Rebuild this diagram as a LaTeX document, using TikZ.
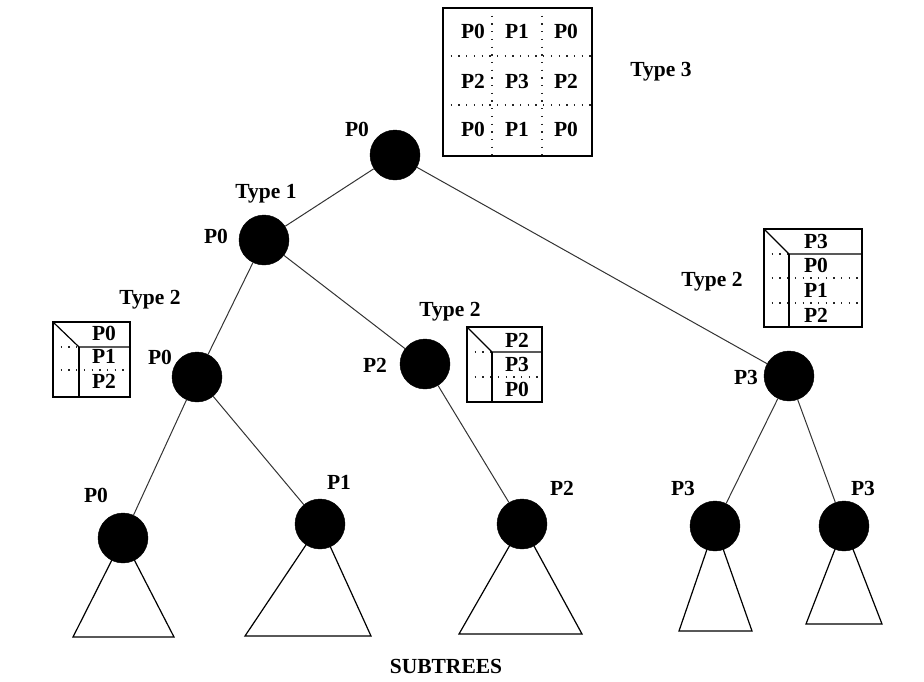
\documentclass[tikz,border=0pt]{standalone}
\usepackage{fontspec}
\setmainfont{Liberation Serif}
\usetikzlibrary{backgrounds}
\begin{document}
\begin{tikzpicture}[x=1pt,y=-1pt,
  font=\fontsize{21.5}{24}\selectfont\bfseries,
  proc/.style={circle,fill=black,draw=black,minimum size=50pt,inner sep=0pt},
  lbl/.style={anchor=base,inner sep=0pt},
  edge/.style={draw=black!80,line width=1pt},
  tri/.style={draw=black,line width=1.2pt,fill=white,line join=miter},
  frame/.style={draw=black,line width=1.2pt},
  dots/.style={draw=black!85,line width=1.3pt,dash pattern=on 1.3pt off 6.4pt}]
\useasboundingbox (0,0) rectangle (924,681);

% processor nodes of the tree
\node[proc] (root) at (395,155) {};
\node[proc] (n1) at (264,240) {};
\node[proc] (n2) at (197,377) {};
\node[proc] (n3) at (425,364) {};
\node[proc] (n4) at (789,376) {};
\node[proc] (l1) at (123,538) {};
\node[proc] (l2) at (320,524) {};
\node[proc] (l3) at (522,524) {};
\node[proc] (l4) at (715,526) {};
\node[proc] (l5) at (844,526) {};

% subtree triangles hanging below the leaves
\coordinate (b1a) at (73,637);  \coordinate (b1b) at (174,637);
\coordinate (b2a) at (245,636); \coordinate (b2b) at (371,636);
\coordinate (b3a) at (459,634); \coordinate (b3b) at (582,634);
\coordinate (b4a) at (679,631); \coordinate (b4b) at (752,631);
\coordinate (b5a) at (806,624); \coordinate (b5b) at (882,624);
\begin{scope}[on background layer]
  \draw[tri] (l1.center) -- (b1a) -- (b1b) -- cycle;
  \draw[tri] (l2.center) -- (b2a) -- (b2b) -- cycle;
  \draw[tri] (l3.center) -- (b3a) -- (b3b) -- cycle;
  \draw[tri] (l4.center) -- (b4a) -- (b4b) -- cycle;
  \draw[tri] (l5.center) -- (b5a) -- (b5b) -- cycle;
\end{scope}

% tree edges
\draw[edge] (root) -- (n1);
\draw[edge] (root) -- (n4);
\draw[edge] (n1) -- (n2);
\draw[edge] (n1) -- (n3);
\draw[edge] (n2) -- (l1);
\draw[edge] (n2) -- (l2);
\draw[edge] (n3) -- (l3);
\draw[edge] (n4) -- (l4);
\draw[edge] (n4) -- (l5);

% processor and type labels
\node[lbl] (troot) at (357,136) {P0};
\node[lbl] (ty1) at (266,198) {Type 1};
\node[lbl] (tn1) at (216,243) {P0};
\node[lbl] (ty2a) at (150,304) {Type 2};
\node[lbl] (tn2) at (160,364) {P0};
\node[lbl] (ty2b) at (450,316) {Type 2};
\node[lbl] (tn3) at (375,372) {P2};
\node[lbl] (ty2c) at (712,286) {Type 2};
\node[lbl] (ty3) at (661,76) {Type 3};
\node[lbl] (tn4) at (746,384) {P3};
\node[lbl] (tl1) at (96,502) {P0};
\node[lbl] (tl2) at (339,489) {P1};
\node[lbl] (tl3) at (562,495) {P2};
\node[lbl] (tl4) at (683,495) {P3};
\node[lbl] (tl5) at (863,495) {P3};
\node[lbl] (sub) at (446,673) {SUBTREES};

% Type 3 block: 3x3 grid
\draw[dots] (492,8) -- (492,156);
\draw[dots] (542,8) -- (542,156);
\draw[dots] (443,56) -- (592,56);
\draw[dots] (443,105) -- (592,105);
\draw[frame] (443,8) rectangle (592,156);
\node[lbl] (g11) at (473,38) {P0};
\node[lbl] (g12) at (517,38) {P1};
\node[lbl] (g13) at (566,38) {P0};
\node[lbl] (g21) at (473,88) {P2};
\node[lbl] (g22) at (517,88) {P3};
\node[lbl] (g23) at (566,88) {P2};
\node[lbl] (g31) at (473,136) {P0};
\node[lbl] (g32) at (517,136) {P1};
\node[lbl] (g33) at (566,136) {P0};

% Type 2 block, left
\draw[dots] (53,347) -- (79,347);
\draw[dots] (53,370) -- (130,370);
\draw[frame] (53,322) rectangle (130,397);
\draw[frame] (53,322) -- (79,347) -- (130,347);
\draw[frame] (79,347) -- (79,397);
\node[lbl] (a1) at (104,340) {P0};
\node[lbl] (a2) at (104,363) {P1};
\node[lbl] (a3) at (104,388) {P2};

% Type 2 block, middle
\draw[dots] (467,352) -- (492,352);
\draw[dots] (467,377) -- (542,377);
\draw[frame] (467,327) rectangle (542,402);
\draw[frame] (467,327) -- (492,352) -- (542,352);
\draw[frame] (492,352) -- (492,402);
\node[lbl] (m1) at (517,347) {P2};
\node[lbl] (m2) at (517,371) {P3};
\node[lbl] (m3) at (517,396) {P0};

% Type 2 block, right
\draw[dots] (764,254) -- (789,254);
\draw[dots] (764,278) -- (862,278);
\draw[dots] (764,303) -- (862,303);
\draw[frame] (764,229) rectangle (862,327);
\draw[frame] (764,229) -- (789,254) -- (862,254);
\draw[frame] (789,254) -- (789,327);
\node[lbl] (r1) at (816,248) {P3};
\node[lbl] (r2) at (816,272) {P0};
\node[lbl] (r3) at (816,297) {P1};
\node[lbl] (r4) at (816,322) {P2};
\end{tikzpicture}
\end{document}
